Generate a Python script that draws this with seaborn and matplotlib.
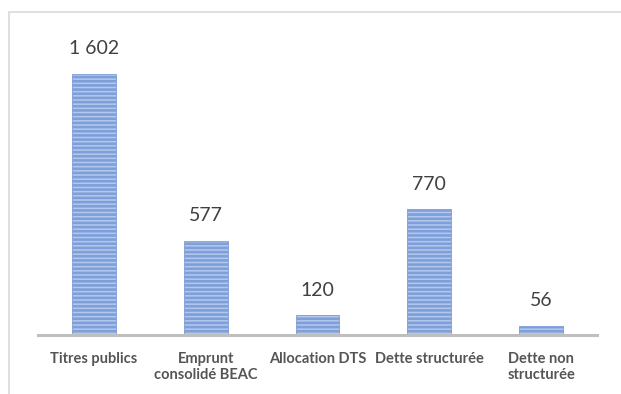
import matplotlib
matplotlib.use("Agg")
import matplotlib.pyplot as plt
import seaborn as sns
from matplotlib.patches import Rectangle

categories = ["Titres publics", "Emprunt\nconsolidé BEAC", "Allocation DTS",
              "Dette structurée", "Dette non\nstructurée"]
values = [1602, 577, 120, 770, 56]
value_labels = ["1 602", "577", "120", "770", "56"]

sns.set_style("white")
plt.rcParams['font.family'] = ['Lato', 'DejaVu Sans']
plt.rcParams['hatch.linewidth'] = 1.9
plt.rcParams['hatch.color'] = '#4472c4'

fig = plt.figure(figsize=(6.21, 3.94), dpi=100)
ax = fig.add_axes([38 / 621, 59 / 394, 559 / 621, 305 / 394])

sns.barplot(x=categories, y=values, color='#b3c8ee', width=0.39,
            saturation=1, ax=ax)
for bar in ax.patches:
    bar.set_hatch('----')
    bar.set_edgecolor('#7f9fd8')
    bar.set_linewidth(0.6)

for bar, lab in zip(ax.patches, value_labels):
    ax.annotate(lab, (bar.get_x() + bar.get_width() / 2, bar.get_height()),
                xytext=(0, 12), textcoords='offset points', ha='center',
                va='bottom', fontsize=14, color='#404040')

ax.set_xlim(-0.5, 4.5)
ax.set_ylim(0, 1870)
ax.set_yticks([])
for s in ['top', 'right', 'left']:
    ax.spines[s].set_visible(False)
ax.spines['bottom'].set_color('#bfbfbf')
ax.spines['bottom'].set_linewidth(2.2)
ax.tick_params(axis='x', length=0, pad=12)
for t in ax.get_xticklabels():
    t.set_fontweight('bold')
    t.set_fontsize(10.5)
    t.set_color('#555555')
    t.set_linespacing(1.25)
    t.set_va('top')

fig.patches.append(Rectangle((9 / 621, -0.05), 1.0, (394 - 12) / 394 + 0.05,
                             transform=fig.transFigure, fill=False,
                             edgecolor='#d9d9d9', linewidth=1.2))

fig.savefig('out.png', dpi=100)
